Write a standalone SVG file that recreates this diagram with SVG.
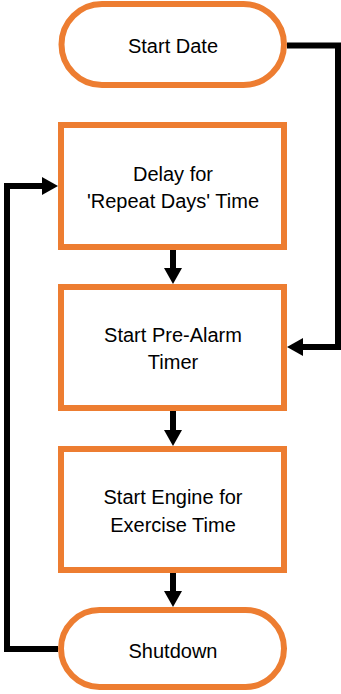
<svg xmlns="http://www.w3.org/2000/svg" width="341" height="694" viewBox="0 0 341 694">
<style>
.node{fill:#fff;stroke:#ED7D31;stroke-width:6}
.lbl{font-family:"Liberation Sans",Arial,sans-serif;font-size:20px;fill:#000;text-anchor:middle}
.conn{fill:none;stroke:#000;stroke-width:6;stroke-linejoin:miter}
</style>
<defs>
<marker id="ah" markerUnits="userSpaceOnUse" markerWidth="16" markerHeight="18" refX="0" refY="9" orient="auto" overflow="visible">
<path d="M0,0 L16,9 L0,18 z" fill="#000"/>
</marker>
</defs>
<g id="connectors">
<path class="conn" d="M287,45.5 H338 V347 H303" marker-end="url(#ah)"/>
<path class="conn" d="M173,250 V268" marker-end="url(#ah)"/>
<path class="conn" d="M173,411 V430" marker-end="url(#ah)"/>
<path class="conn" d="M173,573 V591" marker-end="url(#ah)"/>
<path class="conn" d="M58,649 H7 V186 H42" marker-end="url(#ah)"/>
</g>
<g id="start-date">
<rect class="node" x="61.5" y="4" width="222.5" height="81" rx="40.5"/>
<text class="lbl" x="173" y="53">Start Date</text>
</g>
<g id="delay">
<rect class="node" x="61" y="125" width="223" height="122"/>
<text class="lbl" x="173" y="180.5">Delay for</text>
<text class="lbl" x="173" y="208">'Repeat Days' Time</text>
</g>
<g id="pre-alarm">
<rect class="node" x="61" y="287" width="223" height="121"/>
<text class="lbl" x="173" y="341.5">Start Pre-Alarm</text>
<text class="lbl" x="173" y="369">Timer</text>
</g>
<g id="engine">
<rect class="node" x="61" y="449" width="223" height="121"/>
<text class="lbl" x="173" y="504">Start Engine for</text>
<text class="lbl" x="173" y="531.5">Exercise Time</text>
</g>
<g id="shutdown">
<rect class="node" x="61" y="610" width="223" height="77" rx="38.5"/>
<text class="lbl" x="173" y="658">Shutdown</text>
</g>
</svg>
